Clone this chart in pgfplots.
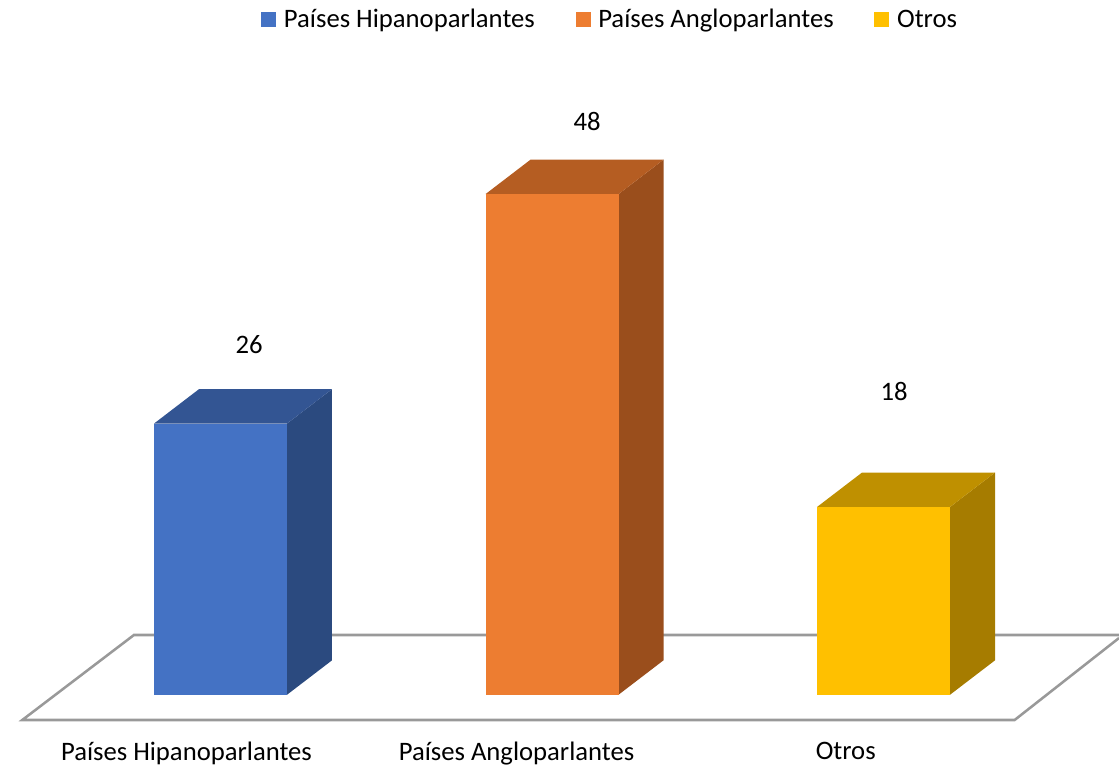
\documentclass[border=0pt]{standalone}
\usepackage{fontspec}
\setmainfont{Carlito}
\usepackage{pgfplots}
\pgfplotsset{compat=1.18}
\definecolor{blueF}{HTML}{4472C4}
\definecolor{blueT}{HTML}{335593}
\definecolor{blueS}{HTML}{2B4A7F}
\definecolor{orangeF}{HTML}{ED7D31}
\definecolor{orangeT}{HTML}{B55D22}
\definecolor{orangeS}{HTML}{9A4E1C}
\definecolor{goldF}{HTML}{FFC000}
\definecolor{goldT}{HTML}{BF9000}
\definecolor{goldS}{HTML}{A67C00}
\definecolor{floorline}{HTML}{999999}

\begin{document}
\begin{tikzpicture}
\useasboundingbox (0,-31.5pt) rectangle (839.25pt,543.75pt);
\begin{axis}[
  scale only axis, width=839.25pt, height=543.75pt,
  at={(0,0)}, anchor=south west,
  xmin=-0.6652, xmax=2.7104, ymin=-2.9, ymax=66.61,
  /pgf/number format/assume math mode=true,
  axis line style={draw=none}, major tick length=0pt,
  ytick=\empty,
  xtick={-0.1026,0.893,1.886},
  xticklabels={Países Hipanoparlantes, Países Angloparlantes, Otros},
  xticklabel style={font=\fontsize{20}{22}\selectfont, yshift=-9.5pt},
  legend style={draw=none, fill=none, at={(0.5456,0.973)}, anchor=center,
    legend columns=3, font=\fontsize{20}{22}\selectfont,
    /tikz/every odd column/.append style={column sep=3.75pt},
    /tikz/every even column/.append style={column sep=28.5pt}},
  legend image code/.code={\fill[#1] (0cm,-5.6pt) rectangle (11.25pt,5.6pt);},
]
% floor
\addplot[floorline, line width=1.9pt, line join=miter, forget plot] coordinates {
  (2.7104,5.44) (2.3955,-2.42) (-0.598,-2.42) (-0.2611,5.73) (2.8,5.73)};

% sides
\addplot[fill=blueS, draw=none, forget plot] coordinates {(0.2006,0) (0.3363,3.3) (0.3363,29.3) (0.2006,26)} -- cycle;
\addplot[fill=orangeS, draw=none, forget plot] coordinates {(1.2006,0) (1.3363,3.3) (1.3363,51.3) (1.2006,48)} -- cycle;
\addplot[fill=goldS, draw=none, forget plot] coordinates {(2.2006,0) (2.3363,3.3) (2.3363,21.3) (2.2006,18)} -- cycle;

% tops
\addplot[fill=blueT, draw=none, forget plot] coordinates {(-0.2006,26) (-0.0649,29.3) (0.3363,29.3) (0.2006,26)} -- cycle;
\addplot[fill=orangeT, draw=none, forget plot] coordinates {(0.7994,48) (0.9351,51.3) (1.3363,51.3) (1.2006,48)} -- cycle;
\addplot[fill=goldT, draw=none, forget plot] coordinates {(1.7994,18) (1.9351,21.3) (2.3363,21.3) (2.2006,18)} -- cycle;

% fronts
\addplot[ybar, bar width=0.4012, bar shift=0pt, fill=blueF, draw=none,
  nodes near coords, every node near coord/.append style={font=\fontsize{20}{22}\selectfont, anchor=center, xshift=21.4pt, yshift=59.25pt}]
  coordinates {(0,26)};
\addlegendentry{Países Hipanoparlantes}
\addplot[ybar, bar width=0.4012, bar shift=0pt, fill=orangeF, draw=none,
  nodes near coords, every node near coord/.append style={font=\fontsize{20}{22}\selectfont, anchor=center, xshift=26.25pt, yshift=54.75pt}]
  coordinates {(1,48)};
\addlegendentry{Países Angloparlantes}
\addplot[ybar, bar width=0.4012, bar shift=0pt, fill=goldF, draw=none,
  nodes near coords, every node near coord/.append style={font=\fontsize{20}{22}\selectfont, anchor=center, xshift=7.9pt, yshift=87pt}]
  coordinates {(2,18)};
\addlegendentry{Otros}
\end{axis}
\end{tikzpicture}
\end{document}
